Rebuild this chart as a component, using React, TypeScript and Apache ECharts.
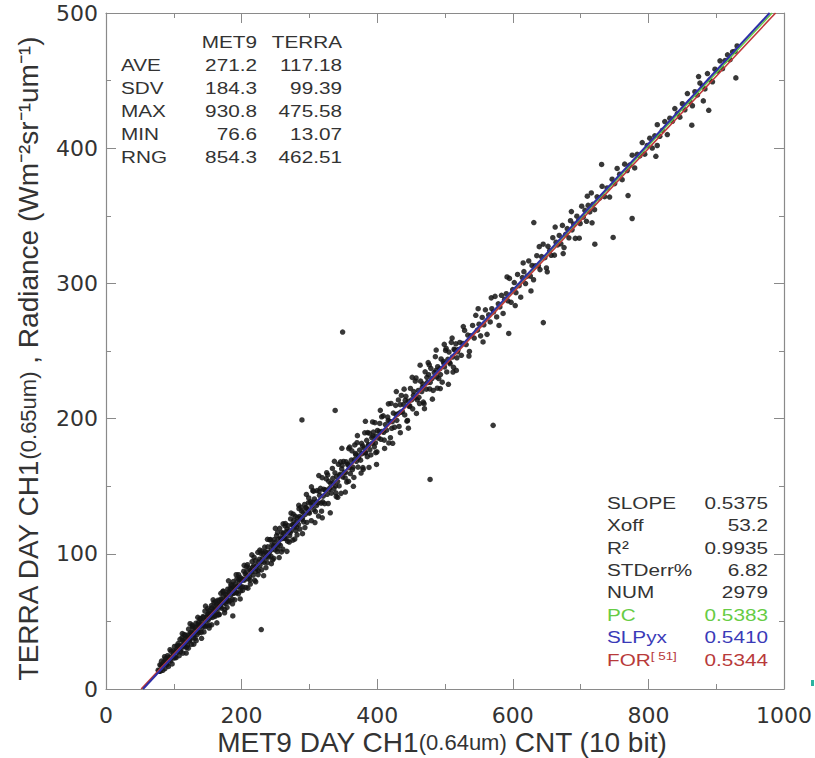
import React, { useEffect, useRef } from "react";
import * as echarts from "echarts";

// ---- Fit / statistics values ----
const meanX = 271.2;
const meanY = 117.18;
const slopePC = 0.5383;
const slopeSLPyx = 0.541;
const slopeFOR = 0.5344;

const statsHeader = ["MET9", "TERRA"];
const statsLabels = ["AVE", "SDV", "MAX", "MIN", "RNG"];
const statsMet9 = ["271.2", "184.3", "930.8", "76.6", "854.3"];
const statsTerra = ["117.18", "99.39", "475.58", "13.07", "462.51"];

const fitLabels = ["SLOPE", "Xoff", "R²", "STDerr%", "NUM", "PC", "SLPyx", "{a|FOR}{s|[ 51]}"];
const fitValues = ["0.5375", "53.2", "0.9935", "6.82", "2979", "0.5383", "0.5410", "0.5344"];
const fitColors = ["#333", "#333", "#333", "#333", "#333", "#66cc44", "#3a3ab8", "#b83a3a"];

// ---- Scatter points (MET9 count, TERRA radiance) ----
const coreLow: number[][] = [
  [77.0,13.9],[78.2,13.1],[79.5,17.9],[80.3,13.2],[81.9,20.6],[82.6,16.7],[83.8,13.8],[85.1,19.8],[86.4,23.9],
  [87.0,15.1],[88.7,20.6],[89.3,18.8],[90.8,24.6],[92.1,16.7],[92.9,23.4],[94.4,29.1],[95.2,20.8],[96.7,23.8],
  [97.5,18.5],[98.9,28.2],[100.2,22.9],[101.0,31.5],[102.6,27.8],[103.3,23.2],[104.8,31.8],[105.5,27.2],
  [107.1,31.9],[107.9,24.6],[109.2,36.7],[110.6,29.6],[111.3,32.0],[112.8,35.9],[113.4,26.5],[114.9,34.9],
  [115.7,31.4],[117.2,39.8],[118.0,34.6],[119.5,38.2],[120.3,32.2],[121.8,44.3],[122.4,37.3],[123.9,36.4],
  [124.7,41.7],[126.1,33.0],[126.8,41.5],[128.3,45.2],[129.0,37.9],[130.6,42.2],[131.4,37.5],[132.7,48.7],
  [133.5,45.5],[135.0,42.9],[135.8,47.9],[137.1,41.7],[138.4,46.8],[139.2,51.8],[140.5,41.8],[141.3,49.7],
  [142.9,47.7],[143.6,52.9],[145.0,46.8],[145.9,57.6],[147.3,50.9],[148.1,47.2],[149.6,54.9],[150.4,50.8],
  [151.9,58.0],[152.5,47.0],[154.0,55.8],[154.8,53.9],[156.3,60.0],[157.1,52.9],[158.6,58.6],[159.3,63.8],
  [160.8,53.7],[161.6,59.0],[163.0,62.4],[163.9,57.7],[165.3,65.7],[166.0,55.0],[167.5,62.7],[168.3,61.5],
  [169.8,66.7],[170.5,59.8],[172.0,66.6],[172.8,72.4],[174.2,63.8],[175.1,58.7],[176.5,69.9],[177.3,66.9],
  [178.8,65.2],[179.5,73.8],[181.0,64.3],[181.8,70.9],[183.2,74.4],[184.1,69.6],[185.5,74.0],[186.2,66.3],
  [187.7,79.5],[188.5,70.8],[190.0,74.4],[190.8,77.7],[192.2,71.2],[193.0,81.4],[194.5,75.8],[195.3,70.4],
  [196.7,79.3],[197.6,82.5],[199.0,75.8],[199.8,80.2],
  [79.0,13.4],[81.2,17.4],[84.5,17.5],[87.6,22.4],[90.1,18.1],[93.5,21.9],[96.0,27.8],[99.4,25.8],[101.8,23.4],
  [104.2,29.2],[106.3,33.6],[108.6,30.3],[110.0,27.6],[112.1,37.9],[114.2,32.2],[116.4,36.9],[118.8,30.7],
  [121.0,40.0],[123.2,35.6],[125.4,40.0],[127.5,46.3],[129.8,40.3],[132.0,45.2],[134.3,40.3],[136.5,49.3],
  [138.9,46.5],[141.0,45.1],[143.1,53.6],[146.5,46.1],[148.8,53.3],[151.0,55.6],[153.2,52.7],[155.5,61.7],
  [157.8,57.0],[160.1,54.5],[162.3,60.8],[164.6,54.9],[166.8,65.2],[169.0,60.7],[171.2,64.5],[173.5,70.1],
  [175.8,63.3],[178.1,67.7],[180.3,71.7],[182.6,65.4],[184.8,76.5],[187.0,71.2],[189.2,75.6],[191.5,71.5],
  [193.8,75.9],[196.0,81.0],[198.3,72.5]
];

const coreHigh: number[][] = [
  [200.9,81.5],[201.7,75.5],[203.2,87.1],[204.0,80.5],[205.4,85.1],[206.3,75.1],[207.7,83.9],[208.6,91.9],
  [210.1,81.6],[210.9,89.4],[212.4,80.5],[213.2,87.7],[214.8,86.6],[215.5,94.2],[217.0,84.2],[217.9,91.1],
  [219.3,80.4],[220.2,95.0],[221.6,89.1],[222.5,91.5],[224.0,101.1],[224.8,87.6],[226.3,96.0],[227.1,91.5],
  [228.6,100.4],[229.4,88.1],[230.9,96.7],[231.8,100.2],[233.2,93.6],[234.1,105.0],[235.5,97.2],[236.4,100.8],
  [237.8,93.5],[238.6,105.2],[240.1,98.6],[241.0,101.1],[242.4,110.5],[243.3,98.2],[244.7,106.6],[245.6,95.5],
  [247.0,105.7],[247.9,110.5],[249.3,103.0],[250.2,105.8],[251.6,113.4],[252.5,101.7],[253.9,110.7],
  [254.8,107.2],[256.2,118.8],[257.1,106.3],[258.5,111.0],[259.4,115.6],[260.8,103.5],[261.7,115.2],
  [263.1,112.3],[264.0,120.6],[265.4,111.2],[266.3,116.4],[267.7,109.3],[268.6,120.8],[270.0,116.8],
  [270.9,113.4],[272.3,125.8],[273.2,117.1],[274.6,121.4],[275.5,110.1],[276.9,124.6],[277.8,119.8],
  [279.2,127.8],[280.1,117.1],[281.5,123.7],[282.4,126.8],[283.8,121.7],[284.7,133.4],[286.1,118.3],
  [287.0,126.3],[288.4,131.7],[289.3,125.3],[290.7,130.6],[291.6,123.6],[293.0,136.5],[293.9,129.2],
  [295.3,134.0],[296.2,123.2],[297.6,132.8],[298.5,137.8],[299.9,130.0],
  [202.5,81.0],[206.9,86.5],[211.6,83.2],[216.3,89.9],[221.0,87.0],[225.6,94.0],[230.2,94.4],[234.8,101.6],
  [239.4,97.5],[244.0,103.0],[248.6,108.2],[253.2,103.8],[257.8,111.8],[262.4,111.4],[267.0,118.4],
  [271.6,115.6],[276.2,121.5],[280.8,119.9],[285.4,127.5],[290.0,126.9],[294.6,134.1],[299.2,130.9]
];

const coreSpread: number[][] = [
  [112.5,41.0],[118.3,26.6],[124.0,48.3],[129.6,33.2],[135.4,53.0],[140.9,37.5],[146.8,61.3],[152.2,45.1],
  [158.0,66.0],[163.5,48.9],[169.4,70.8],[174.9,56.4],[180.7,80.0],[186.6,63.0],[192.0,84.5],[197.9,66.6],
  [203.8,91.5],[209.3,74.6],[215.1,99.2],[220.8,79.3],[226.9,102.8],[232.5,83.8],[238.2,110.7],[243.9,92.7],
  [249.8,118.8],[255.4,97.2],[261.2,122.2],[266.8,101.8],[272.9,130.1],[278.4,110.9],[284.3,135.9],
  [289.8,114.9],[295.6,143.9],
  [115.2,40.2],[121.4,30.2],[127.1,47.3],[133.0,35.7],[138.7,52.0],[144.5,42.2],[150.1,59.4],[155.9,47.5],
  [161.3,64.7],[167.2,55.1],[172.6,72.1],[178.5,60.3],[184.3,77.3],[189.9,66.0],[195.6,84.5],[201.3,72.9],
  [207.2,90.5],[212.9,77.6],[218.5,97.4],[224.4,84.6],[230.0,102.0],[235.9,89.7],[241.6,110.3],[247.4,96.6],
  [253.0,115.6],[258.8,101.4],[264.6,122.4],[270.3,108.7],[276.1,129.3],[281.9,114.0],[287.6,134.4],
  [293.4,119.4],[299.0,141.3]
];

const midBand: number[][] = [
  [301.3,138.5],[302.8,124.5],[303.6,135.7],[305.1,146.7],[306.5,132.7],[307.4,140.6],[308.9,131.2],
  [309.8,138.3],[311.2,146.8],[312.6,137.6],[313.5,127.9],[315.0,143.3],[316.4,148.4],[317.3,137.5],
  [318.8,156.3],[320.2,142.6],[321.1,147.7],[322.5,137.1],[324.0,147.0],[324.9,155.4],[326.3,144.0],
  [327.7,137.2],[328.6,153.6],[330.1,148.5],[331.5,152.0],[332.4,144.8],[333.9,163.1],[335.3,152.4],
  [336.2,148.2],[337.7,159.9],[339.1,145.0],[340.0,157.3],[341.5,153.6],[342.9,166.2],[343.8,150.2],
  [345.2,158.8],[346.7,144.7],[347.6,162.9],[349.0,156.9],[350.4,168.3],[351.3,160.3],[352.8,156.1],
  [354.2,168.0],[355.1,153.1],[356.6,165.9],[358.0,177.8],[358.9,163.6],[360.4,159.3],[361.8,169.3],
  [362.7,176.2],[364.1,164.1],[365.6,156.5],[366.5,169.7],[367.9,174.2],[369.3,168.4],[370.2,182.2],
  [371.7,164.1],[373.1,172.5],[374.0,176.7],[375.5,169.2],[376.9,181.7],[377.8,174.1],[379.3,162.5],
  [380.7,178.3],[381.6,189.5],[383.0,174.8],[384.5,183.9],[385.4,171.8],[386.8,180.2],[388.3,189.2],
  [389.2,177.0],[390.6,173.1],[392.0,186.0],[392.9,181.8],[394.4,190.0],[395.8,179.1],[396.7,197.0],
  [398.2,187.0],[399.6,175.4],[400.5,191.2],[402.0,185.6],[403.8,196.4],[405.5,184.7],[407.1,190.5],
  [408.9,202.1],[410.4,184.1],[412.1,195.6],[413.8,191.4],[415.5,201.1],[417.1,182.0],[418.9,197.8],
  [420.4,211.2],[422.2,197.7],[423.8,204.1],[425.5,193.6],[427.2,209.8],[428.9,198.7],[430.5,203.5],
  [432.2,194.2],[433.9,210.3],[435.6,217.1],[437.2,205.1],[438.9,210.6],[440.6,202.7],[442.3,216.5],
  [443.9,198.1],[445.6,212.9],[447.3,209.0],[449.0,222.3],[450.6,213.8],[452.3,207.2],[454.0,220.0],
  [455.7,215.4],[457.3,230.1],[459.0,213.9],[460.7,220.8],[462.4,211.1],[464.0,227.7],[465.7,220.0],
  [467.4,225.6],[469.1,211.0],[470.7,234.6],[472.4,221.8],[474.1,226.7],[475.8,232.5],[477.4,221.9],
  [479.1,237.2],[480.8,229.6],[482.5,220.8],[484.1,234.1],[485.8,245.8],[487.5,230.8],[489.2,238.4],
  [490.8,229.6],[492.5,236.9],[494.2,244.1],[495.9,226.9],[497.5,242.4],[499.2,238.2],[500.9,250.4],
  [502.6,234.5],[504.2,243.8],[505.9,249.2],[507.6,240.5],[509.3,256.4],[510.9,245.5],[512.6,237.9],
  [514.3,250.8],[516.0,255.3],[517.6,245.0],[519.3,251.1],
  [304.4,138.0],[310.5,135.8],[314.3,146.2],[319.6,138.4],[323.3,147.2],[329.4,147.7],[334.6,155.8],
  [338.4,150.2],[344.5,158.0],[348.3,165.4],[353.5,160.2],[357.3,166.4],[363.4,162.3],[368.6,173.2],
  [372.4,171.0],[378.5,179.8],[382.3,174.7],[387.5,180.8],[393.6,187.2],[397.4,182.0],[403.0,190.3],
  [409.6,189.9],[416.3,198.6],[421.5,192.8],[427.9,202.9],[434.6,204.7],[441.4,213.6],[448.1,209.4],
  [453.4,217.2],[461.5,215.7],[466.6,223.1],[473.3,230.5],[478.2,226.8],[486.6,235.6],[493.3,232.6],
  [498.4,241.0],[506.8,241.5],[513.4,251.3],[518.5,249.4]
];

const midSpread: number[][] = [
  [303.0,149.5],[308.2,123.1],[313.9,157.9],[319.0,126.6],[325.5,160.0],[330.8,130.3],[336.9,168.4],
  [341.8,141.8],[347.9,178.0],[353.0,145.7],[359.4,178.9],[364.9,149.9],[370.8,187.4],[376.2,159.7],
  [382.6,198.0],[387.9,163.9],[393.2,197.5],[399.0,166.1],[404.6,206.1],[410.9,177.9],[416.5,210.9],
  [422.8,181.7],[428.2,220.0],[434.1,189.6],[439.7,221.8],[446.0,192.9],[451.6,230.5],[457.9,203.8],
  [463.3,239.5],[469.7,207.3],[475.2,241.4],[481.4,214.4],[487.0,250.7],[493.0,222.2],[498.9,254.9],
  [505.0,225.4],[510.5,259.6],[516.7,235.6],
  [306.1,146.3],[317.9,131.5],[327.0,158.3],[339.6,142.3],[345.9,168.0],[357.7,153.6],[366.9,180.5],
  [378.9,163.8],[385.9,189.7],[397.9,174.8],[406.6,201.3],[419.5,185.9],[431.3,213.8],[444.7,198.6],
  [456.2,227.8],[468.0,212.2],[476.8,239.7],[488.6,222.5],[501.7,251.9],[511.8,234.4]
];

const upperBand: number[][] = [
  [521.8,256.3],[524.1,246.8],[526.5,255.6],[528.9,265.2],[531.2,254.8],[533.6,261.8],[536.0,249.7],
  [538.3,261.3],[540.7,268.9],[543.1,259.6],[545.4,276.4],[547.8,265.4],[550.2,269.8],[552.5,261.2],
  [554.9,274.8],[557.3,269.4],[559.6,280.5],[562.0,262.3],[564.4,276.7],[566.7,271.5],[569.1,281.3],
  [571.5,278.9],[573.8,290.4],[576.2,275.2],[578.6,284.9],[580.9,282.6],[583.3,291.2],[585.7,277.8],
  [588.0,288.3],[590.4,292.4],[592.8,287.1],[595.1,303.7],[597.5,286.0],[599.9,295.4],[602.2,300.6],
  [604.6,293.1],[607.0,306.6],[609.3,298.3],[611.7,289.8],[614.1,304.3],[616.4,308.7],[618.8,299.9],
  [621.2,305.4],[623.5,316.6],[625.9,305.4],[628.3,313.3],[630.6,302.7],[633.0,313.0],[635.4,320.5],
  [637.7,313.0],[640.1,310.2],[642.5,319.8],[644.8,329.0],[647.2,319.0],[649.6,311.4],[651.9,327.4],
  [654.3,324.1],[656.7,320.8],[659.0,333.8],[661.4,320.9],[663.8,330.5],[666.1,328.5],[668.5,335.5],
  [670.9,329.3],[673.2,342.9],[675.6,326.5],[678.0,336.3],[680.3,340.5],[682.7,333.7],[685.1,346.4],
  [687.4,339.6],[689.8,343.9],[692.2,333.3],[694.5,349.7],[696.9,346.2],[699.3,344.3],[701.6,357.1],
  [704.0,349.1],[706.4,354.0],[708.7,345.9],[711.1,357.7],[713.5,352.9],[715.8,366.9],[718.2,358.5],
  [527.0,268.1],[535.3,246.3],[548.9,281.3],[556.1,256.7],[568.2,289.3],[579.7,268.9],[591.5,304.8],
  [603.6,283.6],[615.3,315.1],[626.8,294.4],[639.0,327.2],[650.8,308.6],[662.5,341.7],[674.3,322.1],
  [686.4,353.1],[698.0,333.4],[709.9,364.5],[716.9,344.8]
];

const topBand: number[][] = [
  [720.6,354.5],[724.3,364.0],[728.0,363.1],[731.7,371.8],[735.4,364.1],[739.1,370.6],[742.8,363.9],
  [746.5,377.1],[750.2,373.8],[753.9,385.0],[757.6,380.8],[761.3,376.7],[765.0,388.2],[768.7,383.5],
  [772.4,387.5],[776.1,394.8],[779.8,385.4],[783.5,395.5],[787.2,394.3],[790.9,404.2],[794.6,395.6],
  [798.3,402.0],[802.0,407.4],[805.7,400.1],[809.4,409.1],[813.1,417.4],[816.8,408.8],[820.5,413.1],
  [824.2,419.7],[827.9,410.1],[831.6,422.2],[835.3,419.9],[839.0,429.3],[842.7,425.6],[846.4,422.9],
  [850.1,432.9],[853.8,428.4],[857.5,440.4],[861.2,434.4],[864.9,431.4],[868.6,441.8],[872.3,439.4],
  [876.0,448.2],[879.7,446.0],[883.4,443.8],[887.1,455.2],[890.8,450.5],[894.5,449.1],[898.2,458.4],
  [901.9,457.2],[905.6,464.6],[909.3,458.8],[913.0,464.8],[916.7,469.1],[920.4,465.5],[924.1,471.3],
  [927.8,471.6],[930.8,475.6]
];

const outliers: number[][] = [
  [349,264],[338,206],[289,199],[571,195],[478,155],[229,44],[187,54],[776,348],[748,334],[721,329],[645,271],
  [594,263],[631,345],[731,388],[770,365],[811,394],[929,452],[864,417],[889,428],[881,435],[874,453],[813,402]
];

const allPoints = [
  ...coreLow, ...coreHigh, ...coreSpread, ...midBand, ...midSpread, ...upperBand, ...topBand, ...outliers,
];

function lineThroughMean(slope: number): number[][] {
  const yLow = 0;
  const yHigh = 500;
  return [
    [meanX + (yLow - meanY) / slope, yLow],
    [meanX + (yHigh - meanY) / slope, yHigh],
  ];
}

export default function App() {
  const ref = useRef<HTMLDivElement>(null);
  useEffect(() => {
    if (!ref.current) return;
    const chart = echarts.init(ref.current, null, { renderer: "svg" });
    const axisColor = "#8a8a8a";
    const labelFont = {
      color: "#333",
      fontFamily: "DejaVu Sans",
      fontSize: 22,
      formatter: (v: number) => String(v),
    };
    const statFont = "17px 'Liberation Sans'";
    const baseX = (pos: "bottom" | "top", labels: boolean) => ({
      type: "value" as const,
      position: pos,
      min: 0,
      max: 1000,
      interval: 200,
      axisLine: { show: true, onZero: false, lineStyle: { color: axisColor, width: 1.2 } },
      axisTick: { show: true, inside: true, length: 10, lineStyle: { color: axisColor } },
      minorTick: { show: true, splitNumber: 2, length: 5, lineStyle: { color: axisColor } },
      splitLine: { show: false },
      axisLabel: { show: labels, margin: 15, ...labelFont },
    });
    const baseY = (pos: "left" | "right", labels: boolean) => ({
      type: "value" as const,
      position: pos,
      min: 0,
      max: 500,
      interval: 100,
      axisLine: { show: true, onZero: false, lineStyle: { color: axisColor, width: 1.2 } },
      axisTick: { show: true, inside: true, length: 10, lineStyle: { color: axisColor } },
      minorTick: { show: true, splitNumber: 2, length: 5, lineStyle: { color: axisColor } },
      splitLine: { show: false },
      axisLabel: { show: labels, margin: 8, ...labelFont },
    });

    const graphics: any[] = [];
    const txt = (x: number, y: number, text: string, align: string, fill: string, extra: any = {}) => ({
      type: "text",
      x,
      y,
      scaleX: 1.22,
      z: 100,
      style: {
        text,
        font: statFont,
        fill,
        align,
        textAlign: align,
        verticalAlign: "middle",
        textVerticalAlign: "middle",
        ...extra,
      },
    });
    // top-left stats
    graphics.push(txt(257, 42, statsHeader[0], "right", "#333"));
    graphics.push(txt(342, 42, statsHeader[1], "right", "#333"));
    statsLabels.forEach((l, i) => {
      const y = 65 + i * 23.1;
      graphics.push(txt(121, y, l, "left", "#333"));
      graphics.push(txt(257, y, statsMet9[i], "right", "#333"));
      graphics.push(txt(342, y, statsTerra[i], "right", "#333"));
    });
    // bottom-right stats
    fitLabels.forEach((l, i) => {
      const y = 503 + i * 22.4;
      graphics.push(
        txt(607, y, l, "left", fitColors[i], {
          rich: {
            a: { font: statFont, fill: fitColors[i] },
            s: { font: "11px 'Liberation Sans'", fill: fitColors[i], verticalAlign: "top" },
          },
        })
      );
      graphics.push(txt(768, y, fitValues[i], "right", fitColors[i]));
    });
    // x axis title
    graphics.push({
      type: "text",
      x: 442,
      y: 742,
      z: 100,
      style: {
        text: "{a|MET9 DAY CH1}{b|(0.64um)}{a| CNT (10 bit)}",
        align: "center",
        textAlign: "center",
        verticalAlign: "middle",
        textVerticalAlign: "middle",
        fill: "#333",
        rich: {
          a: { font: "28px 'Liberation Sans'", fill: "#333" },
          b: { font: "22px 'Liberation Sans'", fill: "#333" },
        },
      },
    });
    // y axis title
    graphics.push({
      type: "text",
      x: 28,
      y: 359,
      rotation: Math.PI / 2,
      z: 100,
      style: {
        text: "{a|TERRA DAY CH1}{b|(0.65um)}{a| , Radiance (Wm⁻²sr⁻¹um⁻¹)}",
        align: "center",
        textAlign: "center",
        verticalAlign: "middle",
        textVerticalAlign: "middle",
        fill: "#333",
        rich: {
          a: { font: "28px 'Liberation Sans'", fill: "#333" },
          b: { font: "22px 'Liberation Sans'", fill: "#333" },
        },
      },
    });
    // small teal mark at right edge
    graphics.push({ type: "rect", shape: { x: 811, y: 680, width: 3, height: 6 }, style: { fill: "#2bb3a0" } });

    chart.setOption({
      animation: false,
      backgroundColor: "#fff",
      grid: { left: 106, right: 31, top: 13, bottom: 69, containLabel: false },
      xAxis: [baseX("bottom", true), baseX("top", false)],
      yAxis: [baseY("left", true), baseY("right", false)],
      series: [
        {
          type: "scatter",
          data: allPoints,
          symbolSize: 5.5,
          itemStyle: { color: "#151515", opacity: 0.85 },
          z: 2,
        },
        {
          type: "line",
          data: lineThroughMean(slopePC),
          showSymbol: false,
          lineStyle: { color: "#66cc44", width: 1.5 },
          z: 3,
        },
        {
          type: "line",
          data: lineThroughMean(slopeFOR),
          showSymbol: false,
          lineStyle: { color: "#c03838", width: 1.6 },
          z: 4,
        },
        {
          type: "line",
          data: lineThroughMean(slopeSLPyx),
          showSymbol: false,
          lineStyle: { color: "#2f2fa8", width: 2 },
          z: 5,
        },
      ],
      graphic: graphics,
    });
    return () => chart.dispose();
  }, []);
  return (
    <div
      ref={ref}
      style={{ position: "fixed", left: 0, top: 0, width: 815, height: 758, background: "#fff" }}
    />
  );
}
